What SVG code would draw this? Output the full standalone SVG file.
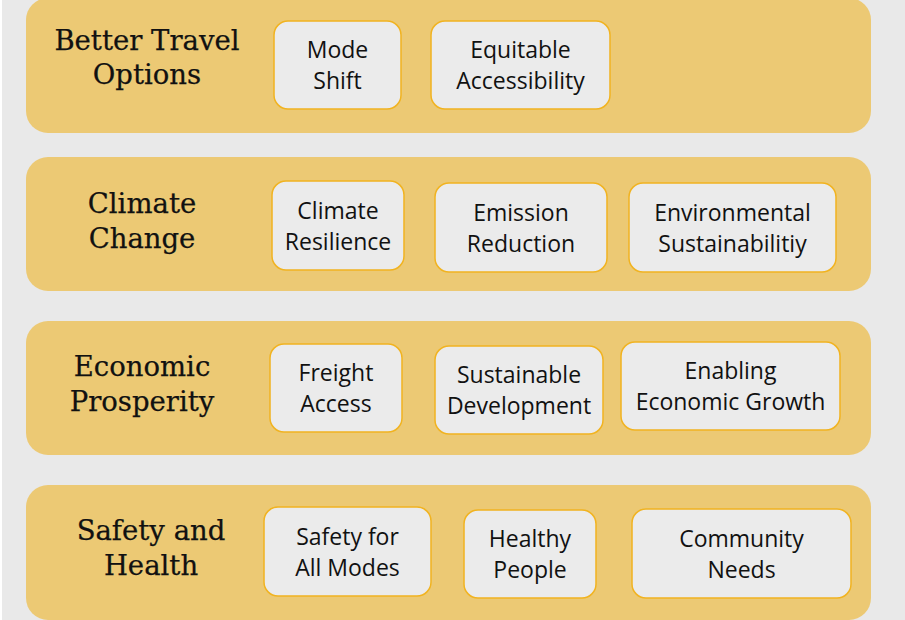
<svg xmlns="http://www.w3.org/2000/svg" width="905" height="620" viewBox="0 0 905 620">
<style>
.band{fill:#ecc974}
.box rect{fill:#ebebeb;stroke:#f1b320;stroke-width:1.5}
.box text{font-family:"Open Sans",Lato,"Liberation Sans",sans-serif;font-size:23px;fill:#111;text-anchor:middle}
.title text{font-family:"DejaVu Serif","Liberation Serif",serif;font-size:27.5px;fill:#111;stroke:#111;stroke-width:0.25;text-anchor:middle}
</style>
<rect x="0" y="0" width="905" height="620" fill="#e9e9e9"/>
<rect x="0" y="0" width="2" height="620" fill="#ffffff"/>

<g id="band1">
<rect class="band" x="26" y="-2" width="845" height="135" rx="22"/>
<g class="title"><text x="147" y="50">Better Travel</text><text x="147" y="84">Options</text></g>
</g>
<g id="band2">
<rect class="band" x="26" y="157" width="845" height="134" rx="22"/>
<g class="title"><text x="142" y="213">Climate</text><text x="142" y="248">Change</text></g>
</g>
<g id="band3">
<rect class="band" x="26" y="321" width="845" height="134" rx="22"/>
<g class="title"><text x="142" y="376">Economic</text><text x="142" y="411">Prosperity</text></g>
</g>
<g id="band4">
<rect class="band" x="26" y="485" width="845" height="135" rx="22"/>
<g class="title"><text x="151" y="540">Safety and</text><text x="151" y="575">Health</text></g>
</g>

<g id="mode-shift" class="box"><rect x="274" y="21" width="127" height="88" rx="14"/><text x="337.5" y="58">Mode</text><text x="337.5" y="89">Shift</text></g>
<g id="equitable-accessibility" class="box"><rect x="431" y="21" width="179" height="88" rx="14"/><text x="520.5" y="58">Equitable</text><text x="520.5" y="89">Accessibility</text></g>

<g id="climate-resilience" class="box"><rect x="272" y="181" width="132" height="89" rx="14"/><text x="338" y="218.5">Climate</text><text x="338" y="249.5">Resilience</text></g>
<g id="emission-reduction" class="box"><rect x="435" y="183" width="172" height="89" rx="14"/><text x="521" y="220.5">Emission</text><text x="521" y="251.5">Reduction</text></g>
<g id="environmental-sustainability" class="box"><rect x="629" y="183" width="207" height="89" rx="14"/><text x="732.5" y="220.5">Environmental</text><text x="732.5" y="251.5">Sustainabilitiy</text></g>

<g id="freight-access" class="box"><rect x="270" y="344" width="132" height="88" rx="14"/><text x="336" y="381">Freight</text><text x="336" y="412">Access</text></g>
<g id="sustainable-development" class="box"><rect x="435" y="346" width="168" height="88" rx="14"/><text x="519" y="383">Sustainable</text><text x="519" y="414">Development</text></g>
<g id="enabling-economic-growth" class="box"><rect x="621" y="342" width="219" height="88" rx="14"/><text x="730.5" y="379">Enabling</text><text x="730.5" y="410">Economic Growth</text></g>

<g id="safety-all-modes" class="box"><rect x="264" y="507" width="167" height="89" rx="14"/><text x="347.5" y="544.5">Safety for</text><text x="347.5" y="575.5">All Modes</text></g>
<g id="healthy-people" class="box"><rect x="464" y="510" width="132" height="88" rx="14"/><text x="530" y="547">Healthy</text><text x="530" y="578">People</text></g>
<g id="community-needs" class="box"><rect x="632" y="509" width="219" height="89" rx="14"/><text x="741.5" y="546.5">Community</text><text x="741.5" y="577.5">Needs</text></g>

<g id="connectors"></g>
</svg>
